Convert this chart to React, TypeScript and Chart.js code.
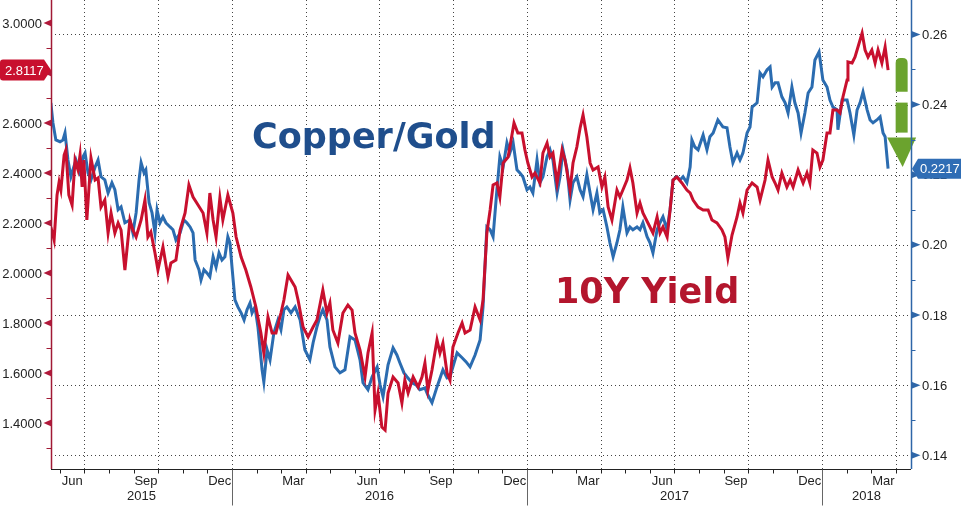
import React, { useEffect, useRef } from "react";
import { Chart, registerables } from "chart.js";

Chart.register(...registerables);

// ---- Data (decimal-year time, value) ----
const yieldT = [
  2015.386, 2015.397, 2015.407, 2015.414, 2015.42, 2015.431, 2015.437, 2015.447, 2015.458, 2015.468,
  2015.478, 2015.485, 2015.492, 2015.498, 2015.508, 2015.522, 2015.536, 2015.546, 2015.556, 2015.569,
  2015.58, 2015.59, 2015.603, 2015.614, 2015.624, 2015.637, 2015.654, 2015.664, 2015.675, 2015.692,
  2015.705, 2015.715, 2015.725, 2015.739, 2015.749, 2015.766, 2015.783, 2015.793, 2015.81, 2015.824,
  2015.841, 2015.854, 2015.868, 2015.885, 2015.902, 2015.915, 2015.925, 2015.936, 2015.946, 2015.959,
  2015.969, 2015.986,
  2016.003, 2016.014, 2016.031, 2016.047, 2016.064, 2016.081, 2016.098, 2016.108, 2016.122, 2016.136,
  2016.149, 2016.166, 2016.176, 2016.19, 2016.2, 2016.214, 2016.224, 2016.241, 2016.258, 2016.275,
  2016.288, 2016.308, 2016.322, 2016.332, 2016.342, 2016.359, 2016.376, 2016.393, 2016.407, 2016.417,
  2016.434, 2016.451, 2016.461, 2016.475, 2016.485, 2016.495, 2016.508, 2016.519, 2016.529, 2016.546,
  2016.563, 2016.576, 2016.586, 2016.597, 2016.614, 2016.631, 2016.644, 2016.654, 2016.664, 2016.678,
  2016.695, 2016.705, 2016.715, 2016.729, 2016.739, 2016.749, 2016.766, 2016.78, 2016.79, 2016.807,
  2016.824, 2016.841, 2016.851, 2016.864, 2016.875, 2016.885, 2016.898, 2016.908, 2016.919, 2016.936,
  2016.949, 2016.956, 2016.969, 2016.983, 2016.993,
  2017.003, 2017.017, 2017.027, 2017.044, 2017.054, 2017.068, 2017.078, 2017.088, 2017.102, 2017.119,
  2017.129, 2017.146, 2017.156, 2017.169, 2017.18, 2017.19, 2017.203, 2017.214, 2017.224, 2017.241,
  2017.254, 2017.264, 2017.275, 2017.288, 2017.305, 2017.315, 2017.325, 2017.339, 2017.349, 2017.359,
  2017.373, 2017.383, 2017.393, 2017.41, 2017.427, 2017.441, 2017.451, 2017.461, 2017.475, 2017.485,
  2017.495, 2017.508, 2017.525, 2017.542, 2017.553, 2017.563, 2017.58, 2017.597, 2017.614, 2017.627,
  2017.644, 2017.661, 2017.671, 2017.681, 2017.695, 2017.712, 2017.722, 2017.732, 2017.746, 2017.763,
  2017.78, 2017.79, 2017.807, 2017.817, 2017.831, 2017.841, 2017.851, 2017.864, 2017.881, 2017.892,
  2017.902, 2017.919, 2017.936, 2017.949, 2017.959, 2017.969, 2017.983, 2017.993,
  2018.003, 2018.017, 2018.027, 2018.037, 2018.051, 2018.061, 2018.071, 2018.085, 2018.088, 2018.102,
  2018.112, 2018.122, 2018.136, 2018.146, 2018.156, 2018.169, 2018.18, 2018.19, 2018.203, 2018.214,
  2018.224,
];
const yieldV = [
  2.184, 2.132, 2.312, 2.364, 2.332, 2.472, 2.492, 2.312, 2.272, 2.452,
  2.412, 2.472, 2.344, 2.452, 2.212, 2.46, 2.372, 2.38, 2.264, 2.292,
  2.16, 2.24, 2.16, 2.2, 2.172, 2.012, 2.212, 2.172, 2.144, 2.212,
  2.292, 2.144, 2.164, 2.08, 2.012, 2.104, 1.984, 2.04, 2.052, 2.172,
  2.24, 2.352, 2.304, 2.272, 2.24, 2.16, 2.32, 2.212, 2.144, 2.3,
  2.212, 2.312,
  2.24, 2.144, 2.064, 2.012, 1.944, 1.864, 1.76, 1.68, 1.824, 1.76,
  1.76, 1.84, 1.892, 1.992, 1.972, 1.944, 1.892, 1.784, 1.744, 1.784,
  1.812, 1.932, 1.84, 1.88, 1.772, 1.72, 1.84, 1.872, 1.852, 1.76,
  1.692, 1.584, 1.68, 1.76, 1.452, 1.52, 1.384, 1.372, 1.52, 1.584,
  1.56, 1.48, 1.572, 1.52, 1.584, 1.544, 1.584, 1.64, 1.532, 1.612,
  1.732, 1.68, 1.72, 1.6, 1.572, 1.704, 1.76, 1.8, 1.76, 1.772,
  1.864, 1.812, 1.892, 2.16, 2.252, 2.352, 2.36, 2.304, 2.44, 2.464,
  2.552, 2.6, 2.56, 2.56, 2.492,
  2.44, 2.384, 2.4, 2.36, 2.48, 2.52, 2.464, 2.48, 2.36, 2.492,
  2.452, 2.332, 2.44, 2.504, 2.58, 2.632, 2.544, 2.44, 2.412, 2.424,
  2.344, 2.384, 2.264, 2.212, 2.332, 2.304, 2.332, 2.372, 2.42, 2.36,
  2.24, 2.28, 2.24, 2.2, 2.16, 2.224, 2.16, 2.184, 2.144, 2.252,
  2.372, 2.384, 2.36, 2.332, 2.32, 2.292, 2.264, 2.252, 2.252, 2.212,
  2.2, 2.172, 2.144, 2.06, 2.152, 2.224, 2.28, 2.24, 2.332, 2.36,
  2.344, 2.292, 2.372, 2.452, 2.384, 2.36, 2.332, 2.4, 2.344, 2.372,
  2.344, 2.412, 2.36, 2.4, 2.36, 2.492, 2.48, 2.424,
  2.452, 2.56, 2.56, 2.652, 2.652, 2.64, 2.704, 2.772, 2.844, 2.84,
  2.864, 2.904, 2.96, 2.892, 2.864, 2.892, 2.84, 2.892, 2.84, 2.904,
  2.8117,
];

const copperGoldT = [
  2015.386, 2015.393, 2015.403, 2015.417, 2015.427, 2015.434, 2015.444, 2015.454, 2015.461, 2015.471,
  2015.485, 2015.495, 2015.502, 2015.512, 2015.522, 2015.536, 2015.546, 2015.556, 2015.569, 2015.58,
  2015.593, 2015.603, 2015.614, 2015.624, 2015.637, 2015.654, 2015.664, 2015.675, 2015.685, 2015.692,
  2015.702, 2015.708, 2015.719, 2015.729, 2015.739, 2015.746, 2015.756, 2015.766, 2015.776, 2015.79,
  2015.8, 2015.81, 2015.824, 2015.837, 2015.847, 2015.858, 2015.868, 2015.875, 2015.888, 2015.895,
  2015.905, 2015.915, 2015.925, 2015.936, 2015.946, 2015.956, 2015.966, 2015.976, 2015.986, 2015.993,
  2016.0, 2016.01, 2016.02, 2016.031, 2016.041, 2016.051, 2016.061, 2016.068, 2016.078, 2016.088,
  2016.102, 2016.108, 2016.119, 2016.129, 2016.142, 2016.156, 2016.166, 2016.176, 2016.186, 2016.2,
  2016.214, 2016.231, 2016.247, 2016.264, 2016.275, 2016.288, 2016.298, 2016.308, 2016.322, 2016.332,
  2016.349, 2016.366, 2016.383, 2016.4, 2016.417, 2016.434, 2016.444, 2016.461, 2016.475, 2016.492,
  2016.502, 2016.512, 2016.529, 2016.546, 2016.559, 2016.569, 2016.583, 2016.593, 2016.61, 2016.624,
  2016.637, 2016.654, 2016.664, 2016.678, 2016.695, 2016.715, 2016.729, 2016.739, 2016.749, 2016.763,
  2016.78, 2016.793, 2016.807, 2016.824, 2016.841, 2016.851, 2016.864, 2016.875, 2016.885, 2016.898,
  2016.908, 2016.919, 2016.932, 2016.942, 2016.953, 2016.966, 2016.976, 2016.986,
  2017.0, 2017.01, 2017.02, 2017.034, 2017.044, 2017.054, 2017.068, 2017.078, 2017.088, 2017.102,
  2017.112, 2017.122, 2017.136, 2017.146, 2017.156, 2017.169, 2017.18, 2017.19, 2017.203, 2017.214,
  2017.224, 2017.237, 2017.247, 2017.258, 2017.271, 2017.281, 2017.292, 2017.305, 2017.315, 2017.325,
  2017.339, 2017.349, 2017.359, 2017.373, 2017.383, 2017.393, 2017.407, 2017.417, 2017.427, 2017.441,
  2017.451, 2017.461, 2017.475, 2017.485, 2017.495, 2017.508, 2017.519, 2017.529, 2017.542, 2017.553,
  2017.559, 2017.569, 2017.58, 2017.597, 2017.61, 2017.62, 2017.631, 2017.647, 2017.664, 2017.678,
  2017.688, 2017.698, 2017.712, 2017.722, 2017.732, 2017.746, 2017.756, 2017.763, 2017.78, 2017.79,
  2017.8, 2017.814, 2017.824, 2017.831, 2017.841, 2017.851, 2017.864, 2017.875, 2017.885, 2017.898,
  2017.908, 2017.919, 2017.929, 2017.942, 2017.953, 2017.966, 2017.976, 2017.99,
  2018.003, 2018.017, 2018.027, 2018.037, 2018.051, 2018.054, 2018.068, 2018.085, 2018.095, 2018.108,
  2018.119, 2018.129, 2018.139, 2018.153, 2018.163, 2018.173, 2018.186, 2018.197, 2018.207, 2018.214,
  2018.224,
];
const copperGoldV = [
  0.2405, 0.2348, 0.2299, 0.2294, 0.2299, 0.2319, 0.2242, 0.2194, 0.2214, 0.2242,
  0.2205, 0.2251, 0.2262, 0.2205, 0.2185, 0.2222, 0.2242, 0.2194, 0.2185, 0.2148,
  0.2177, 0.2157, 0.21, 0.2108, 0.2063, 0.2071, 0.2034, 0.2091, 0.2185, 0.2234,
  0.2205, 0.2214, 0.212, 0.2091, 0.2034, 0.21, 0.2063, 0.208, 0.2063, 0.2051,
  0.2043, 0.2014, 0.2034, 0.2071, 0.2063, 0.2051, 0.2034, 0.1957, 0.1929, 0.19,
  0.1929, 0.192, 0.1909, 0.1966, 0.1937, 0.1977, 0.1957, 0.1966, 0.2023, 0.2006,
  0.1937, 0.1843, 0.1823, 0.1806, 0.1786, 0.1815, 0.1834, 0.1806, 0.1823, 0.1766,
  0.1644, 0.1609, 0.1701, 0.1672, 0.1749, 0.1786, 0.1758, 0.1815, 0.1823, 0.1806,
  0.1823, 0.1786, 0.1701, 0.1672, 0.1721, 0.1766, 0.1795, 0.1815, 0.1786, 0.1709,
  0.1652, 0.1635, 0.1644, 0.1738, 0.1729, 0.1672, 0.1607, 0.1587, 0.1624, 0.1652,
  0.1601, 0.1567, 0.1658, 0.1706, 0.1686, 0.1664, 0.1635, 0.1624, 0.1607, 0.1601,
  0.1587, 0.1592, 0.1572, 0.155, 0.1595, 0.1644, 0.1621, 0.1624, 0.1652, 0.1692,
  0.1678, 0.1667, 0.1652, 0.1686, 0.1729, 0.1823, 0.2051, 0.2043, 0.2023, 0.2157,
  0.2251, 0.2222, 0.2291, 0.2262, 0.2291, 0.2214, 0.2205, 0.2194,
  0.2157, 0.2165, 0.2148, 0.2242, 0.2177, 0.2194, 0.2251, 0.2271, 0.2242, 0.2148,
  0.2194, 0.2271, 0.2214, 0.2128, 0.2177, 0.2194, 0.2157, 0.2137, 0.22, 0.2148,
  0.21, 0.2148, 0.2091, 0.21, 0.2051, 0.2006, 0.1966, 0.2006, 0.2043, 0.2108,
  0.2034, 0.2051, 0.2043, 0.2051, 0.2043, 0.2063, 0.2023, 0.2006, 0.1977, 0.2043,
  0.2063, 0.208, 0.2043, 0.21, 0.2185, 0.2194, 0.2185, 0.2194, 0.2177, 0.2222,
  0.2299, 0.2279, 0.2271, 0.2313, 0.2271, 0.2308, 0.2319, 0.2356, 0.2336, 0.2334,
  0.2279, 0.2234, 0.2262, 0.2242, 0.2262, 0.2319, 0.2336, 0.2393, 0.2405, 0.249,
  0.2479, 0.2499, 0.2507, 0.245, 0.2462, 0.2462, 0.2422, 0.2405, 0.2376, 0.245,
  0.2405, 0.2376, 0.2319, 0.2376, 0.2433, 0.245, 0.2527, 0.255,
  0.247, 0.245, 0.2413, 0.2393, 0.2385, 0.2328, 0.2413, 0.2413, 0.2376, 0.2313,
  0.2385, 0.2405, 0.2436, 0.2385, 0.2356, 0.2348, 0.2356, 0.2365, 0.2319, 0.2308,
  0.2217,
];

// ---- Axis ticks and labels ----
const leftMajorTicks = [1.4, 1.6, 1.8, 2.0, 2.2, 2.4, 2.6, 2.8, 3.0];
const leftMinorTicks = [1.3, 1.5, 1.7, 1.9, 2.1, 2.3, 2.5, 2.7, 2.9];
const rightMajorTicks = [0.14, 0.16, 0.18, 0.2, 0.22, 0.24, 0.26];
const rightMinorTicks = [0.15, 0.17, 0.19, 0.21, 0.23, 0.25];
const monthLabels = ["Jun", "Sep", "Dec", "Mar", "Jun", "Sep", "Dec", "Mar", "Jun", "Sep", "Dec", "Mar"];
const monthLabelYears = [2015, 2015, 2015, 2016, 2016, 2016, 2016, 2017, 2017, 2017, 2017, 2018];
const monthLabelIndex = [5, 8, 11, 2, 5, 8, 11, 2, 5, 8, 11, 2];
const yearLabels = ["2015", "2016", "2017", "2018"];
const yearStarts = [2015, 2016, 2017, 2018];
const firstMonthTick = 2015 * 12 + 5; // Jun 2015
const lastMonthTick = 2018 * 12 + 3; // Apr 2018

const X_MIN = 2015.3865;
const X_MAX = 2018.3017;
const YL_MIN = 1.216;
const YL_MAX = 3.092;
const YR_MIN = 0.1361;
const YR_MAX = 0.2698;

// Annotations (anchored in data coordinates)
const copperLabel = { text: "Copper/Gold", t: 2016.068, v: 2.5 };
const yieldLabel = { text: "10Y Yield", t: 2017.095, v: 1.88 };
const arrowT = 2018.27;
const arrowFrom = 0.2533;
const arrowTo = 0.2222;

const RED = "#C8102E";
const BLUE = "#2B6CB0";
const FONT = "13px 'Liberation Sans', Arial, sans-serif";

const overlayPlugin = {
  id: "overlay",
  beforeDatasetsDraw(chart: any) {
    const { ctx, chartArea: a, scales } = chart;
    const xs = scales.x;
    const yR = scales.yR;
    ctx.save();
    ctx.strokeStyle = "#444";
    ctx.lineWidth = 1;
    ctx.setLineDash([1, 3]);
    for (const v of rightMajorTicks) {
      const py = Math.round(yR.getPixelForValue(v)) + 0.5;
      ctx.beginPath();
      ctx.moveTo(a.left, py);
      ctx.lineTo(a.right, py);
      ctx.stroke();
    }
    for (let i = 0; i < monthLabels.length; i++) {
      const t = monthLabelYears[i] + (monthLabelIndex[i] + 1) / 12;
      const px = Math.round(xs.getPixelForValue(t)) + 0.5;
      ctx.beginPath();
      ctx.moveTo(px, a.top);
      ctx.lineTo(px, a.bottom);
      ctx.stroke();
    }
    ctx.restore();
  },
  afterDatasetsDraw(chart: any) {
    const { ctx, chartArea: a, scales } = chart;
    const xs = scales.x;
    const yL = scales.yL;
    const yR = scales.yR;
    const W = chart.width;
    ctx.save();
    ctx.setLineDash([]);

    // Annotation texts
    ctx.font = "bold 35px 'DejaVu Sans', Verdana, sans-serif";
    ctx.textBaseline = "alphabetic";
    ctx.textAlign = "left";
    ctx.fillStyle = "#1F4E8C";
    ctx.fillText(copperLabel.text, xs.getPixelForValue(copperLabel.t), yL.getPixelForValue(copperLabel.v));
    ctx.fillStyle = "#B3162D";
    ctx.fillText(yieldLabel.text, xs.getPixelForValue(yieldLabel.t), yL.getPixelForValue(yieldLabel.v));

    // Green dashed arrow
    {
      const cx = xs.getPixelForValue(arrowT);
      const y0 = yR.getPixelForValue(arrowFrom);
      const y1 = yR.getPixelForValue(arrowTo);
      const L = y1 - y0;
      ctx.fillStyle = "#6BA32E";
      const w = 12;
      const r = 5;
      const d1a = y0, d1b = y0 + 0.31 * L;
      ctx.beginPath();
      ctx.moveTo(cx - w / 2, d1b);
      ctx.lineTo(cx - w / 2, d1a + r);
      ctx.quadraticCurveTo(cx - w / 2, d1a, cx - w / 2 + r, d1a);
      ctx.lineTo(cx + w / 2 - r, d1a);
      ctx.quadraticCurveTo(cx + w / 2, d1a, cx + w / 2, d1a + r);
      ctx.lineTo(cx + w / 2, d1b);
      ctx.closePath();
      ctx.fill();
      const d2a = y0 + 0.41 * L, d2b = y0 + 0.685 * L;
      ctx.fillRect(cx - w / 2, d2a, w, d2b - d2a);
      const hTop = y0 + 0.73 * L;
      ctx.beginPath();
      ctx.moveTo(cx - 14.5, hTop);
      ctx.lineTo(cx + 14.5, hTop);
      ctx.lineTo(cx + 1, y1);
      ctx.closePath();
      ctx.fill();
    }

    // Left axis
    const leftX = Math.round(a.left) + 0.5;
    ctx.strokeStyle = "#A11A35";
    ctx.lineWidth = 1.5;
    ctx.beginPath();
    ctx.moveTo(leftX, a.top);
    ctx.lineTo(leftX, a.bottom);
    ctx.stroke();
    ctx.lineWidth = 1;
    for (const v of leftMinorTicks) {
      const py = Math.round(yL.getPixelForValue(v)) + 0.5;
      if (py < a.top || py > a.bottom) continue;
      ctx.beginPath();
      ctx.moveTo(leftX - 5, py);
      ctx.lineTo(leftX, py);
      ctx.stroke();
    }
    ctx.font = FONT;
    ctx.textAlign = "right";
    ctx.textBaseline = "middle";
    for (const v of leftMajorTicks) {
      const py = yL.getPixelForValue(v);
      ctx.fillStyle = "#B0183A";
      ctx.beginPath();
      ctx.moveTo(leftX, py - 3.5);
      ctx.lineTo(leftX - 8, py);
      ctx.lineTo(leftX, py + 3.5);
      ctx.closePath();
      ctx.fill();
      ctx.fillStyle = "#222";
      ctx.fillText(v.toFixed(4), a.left - 9, py + 1);
    }

    // Right axis
    const rightX = Math.round(a.right) + 0.5;
    ctx.strokeStyle = "#2E66A8";
    ctx.lineWidth = 1.5;
    ctx.beginPath();
    ctx.moveTo(rightX, a.top);
    ctx.lineTo(rightX, a.bottom);
    ctx.stroke();
    ctx.lineWidth = 1;
    for (const v of rightMinorTicks) {
      const py = Math.round(yR.getPixelForValue(v)) + 0.5;
      ctx.beginPath();
      ctx.moveTo(rightX, py);
      ctx.lineTo(rightX + 4, py);
      ctx.stroke();
    }
    ctx.textAlign = "left";
    for (const v of rightMajorTicks) {
      const py = yR.getPixelForValue(v);
      ctx.fillStyle = "#2E66A8";
      ctx.beginPath();
      ctx.moveTo(rightX, py - 3.5);
      ctx.lineTo(rightX + 9, py);
      ctx.lineTo(rightX, py + 3.5);
      ctx.closePath();
      ctx.fill();
      ctx.fillStyle = "#222";
      ctx.fillText(v.toFixed(2), a.right + 11, py + 1);
    }

    // Bottom axis
    const by = Math.round(a.bottom) + 0.5;
    ctx.strokeStyle = "#222";
    ctx.lineWidth = 1;
    ctx.beginPath();
    ctx.moveTo(a.left, by);
    ctx.lineTo(a.right, by);
    ctx.stroke();
    for (let m = firstMonthTick; m <= lastMonthTick; m++) {
      const px = Math.round(xs.getPixelForValue(m / 12)) + 0.5;
      if (px < a.left || px > a.right) continue;
      ctx.beginPath();
      ctx.moveTo(px, by);
      ctx.lineTo(px, by + 4);
      ctx.stroke();
    }
    ctx.strokeStyle = "#666";
    for (const ys of yearStarts) {
      const px = Math.round(xs.getPixelForValue(ys)) + 0.5;
      if (px <= a.left || px >= a.right) continue;
      ctx.beginPath();
      ctx.moveTo(px, by);
      ctx.lineTo(px, by + 36);
      ctx.stroke();
    }
    ctx.fillStyle = "#222";
    ctx.textAlign = "center";
    ctx.textBaseline = "middle";
    for (let i = 0; i < monthLabels.length; i++) {
      const t = monthLabelYears[i] + (monthLabelIndex[i] + 0.5) / 12;
      ctx.fillText(monthLabels[i], xs.getPixelForValue(t), by + 12);
    }
    for (let i = 0; i < yearLabels.length; i++) {
      const s = Math.max(xs.getPixelForValue(yearStarts[i]), a.left);
      const e = Math.min(xs.getPixelForValue(yearStarts[i] + 1), a.right);
      ctx.fillText(yearLabels[i], (s + e) / 2, by + 27);
    }

    // Last-value tags
    const lastY = yieldV[yieldV.length - 1];
    const lastC = copperGoldV[copperGoldV.length - 1];
    {
      const cy = yL.getPixelForValue(lastY);
      const h = 10.5;
      ctx.fillStyle = RED;
      ctx.beginPath();
      ctx.moveTo(3, cy - h);
      ctx.lineTo(a.left - 7, cy - h);
      ctx.lineTo(a.left, cy);
      ctx.lineTo(a.left - 7, cy + h);
      ctx.lineTo(3, cy + h);
      ctx.quadraticCurveTo(0, cy + h, 0, cy + h - 3);
      ctx.lineTo(0, cy - h + 3);
      ctx.quadraticCurveTo(0, cy - h, 3, cy - h);
      ctx.closePath();
      ctx.fill();
      ctx.fillStyle = "#fff";
      ctx.textAlign = "left";
      ctx.fillText(lastY.toFixed(4), 5, cy + 1);
    }
    {
      const cy = yR.getPixelForValue(lastC);
      const h = 10;
      ctx.fillStyle = "#2F6DB5";
      ctx.beginPath();
      ctx.moveTo(a.right + 1, cy);
      ctx.lineTo(a.right + 7, cy - h);
      ctx.lineTo(W, cy - h);
      ctx.lineTo(W, cy + h);
      ctx.lineTo(a.right + 7, cy + h);
      ctx.closePath();
      ctx.fill();
      ctx.fillStyle = "#fff";
      ctx.textAlign = "left";
      ctx.fillText(lastC.toFixed(4), a.right + 9, cy + 1);
    }
    ctx.restore();
  },
};

export default function App() {
  const ref = useRef<HTMLCanvasElement | null>(null);
  useEffect(() => {
    document.body.style.margin = "0";
    const canvas = ref.current;
    if (!canvas) return;
    const chart = new Chart(canvas, {
      type: "line",
      data: {
        datasets: [
          {
            label: "10Y Yield",
            data: yieldT.map((t, i) => ({ x: t, y: yieldV[i] })),
            yAxisID: "yL",
            borderColor: RED,
            borderWidth: 3,
            pointRadius: 0,
            tension: 0,
            fill: false,
          },
          {
            label: "Copper/Gold",
            data: copperGoldT.map((t, i) => ({ x: t, y: copperGoldV[i] })),
            yAxisID: "yR",
            borderColor: BLUE,
            borderWidth: 3,
            pointRadius: 0,
            tension: 0,
            fill: false,
          },
        ],
      },
      options: {
        animation: false,
        responsive: false,
        devicePixelRatio: 1,
        layout: { padding: { left: 51, right: 50, top: 0, bottom: 37 } },
        plugins: { legend: { display: false }, tooltip: { enabled: false } },
        scales: {
          x: { type: "linear", min: X_MIN, max: X_MAX, display: false },
          yL: { type: "linear", position: "left", min: YL_MIN, max: YL_MAX, display: false },
          yR: { type: "linear", position: "right", min: YR_MIN, max: YR_MAX, display: false },
        },
      },
      plugins: [overlayPlugin],
    } as any);
    return () => chart.destroy();
  }, []);
  return (
    <div style={{ position: "absolute", left: 0, top: 0, width: 961, height: 506, background: "#fff" }}>
      <canvas ref={ref} width={961} height={506} style={{ display: "block" }} />
    </div>
  );
}
